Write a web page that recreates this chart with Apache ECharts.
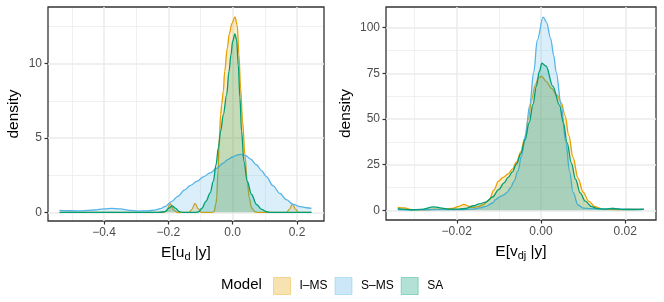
<!DOCTYPE html>
<html>
<head>
<meta charset="utf-8">
<script src="https://cdn.jsdelivr.net/npm/echarts@6/dist/echarts.min.js"></script>
<style>html,body{margin:0;padding:0;background:#fff;}#c{width:664px;height:302px;}</style>
</head>
<body>
<div id="c"></div>
<script>
// ---------- data ----------
const models = ['I\u2013MS', 'S\u2013MS', 'SA'];
const colors = ['#E69F00', '#56B4E9', '#009E73'];

// Left panel: E[u_d | y]
const leftIMS = [[-0.538,0],[-0.215,0],[-0.205,0.12],[-0.194,0.58],[-0.183,0.15],[-0.172,0],[-0.135,0],[-0.127,0.2],[-0.117,0.6],[-0.107,0.25],[-0.097,0],[-0.065,0],[-0.058,0.05],[-0.0517,0.6],[-0.0497,0.98],[-0.0455,2.76],[-0.0414,5.0],[-0.0373,6.57],[-0.0342,7.24],[-0.029,8.13],[-0.0248,9.47],[-0.0166,11.04],[-0.0104,12.0],[-0.0021,12.7],[0.0072,13.13],[0.0144,12.57],[0.0195,10.59],[0.0247,8.35],[0.0309,6.11],[0.0381,3.88],[0.0454,2.09],[0.0516,0.98],[0.0588,0.31],[0.0691,0.04],[0.08,0],[0.168,0],[0.176,0.2],[0.186,0.55],[0.196,0.2],[0.205,0],[0.245,0]];
const leftSMS = [[-0.538,0.14],[-0.5,0.11],[-0.469,0.1],[-0.43,0.16],[-0.4,0.23],[-0.376,0.27],[-0.35,0.23],[-0.32,0.14],[-0.294,0.09],[-0.265,0.1],[-0.242,0.15],[-0.225,0.25],[-0.211,0.38],[-0.19,0.72],[-0.17,1.08],[-0.15,1.5],[-0.132,1.8],[-0.11,2.1],[-0.091,2.39],[-0.07,2.65],[-0.05,2.95],[-0.03,3.3],[-0.015,3.55],[0,3.72],[0.015,3.86],[0.025,3.9],[0.04,3.82],[0.055,3.6],[0.074,3.2],[0.09,2.8],[0.105,2.4],[0.125,1.8],[0.147,1.27],[0.167,0.85],[0.188,0.54],[0.21,0.38],[0.23,0.31],[0.245,0.27]];
const leftSA = [[-0.538,0],[-0.23,0],[-0.21,0.05],[-0.198,0.28],[-0.188,0.44],[-0.178,0.28],[-0.166,0.05],[-0.155,0],[-0.115,0],[-0.106,0.04],[-0.096,0.26],[-0.0825,0.75],[-0.07,1.31],[-0.06,2.09],[-0.0517,3.2],[-0.0445,4.33],[-0.0373,5.45],[-0.029,6.57],[-0.0186,7.9],[-0.0114,9.47],[-0.0052,10.59],[0.0,11.5],[0.0071,12.0],[0.0123,11.6],[0.0175,9.9],[0.0226,7.7],[0.0278,5.45],[0.035,3.43],[0.0454,2.09],[0.0588,1.2],[0.0743,0.53],[0.09,0.2],[0.105,0.04],[0.12,0],[0.245,0]];

// Right panel: E[v_dj | y]
const rightIMS = [[-0.034,1.6],[-0.0325,1.3],[-0.0305,0.3],[-0.028,0.3],[-0.025,0.6],[-0.021,1.0],[-0.0195,2.2],[-0.0183,3.3],[-0.0172,2.3],[-0.0163,1.5],[-0.015,2.0],[-0.0139,2.9],[-0.0123,5.7],[-0.0112,11],[-0.0101,16],[-0.009,18],[-0.0078,20],[-0.0068,22.5],[-0.0058,26.5],[-0.0048,32],[-0.0039,39.3],[-0.003,50],[-0.0022,61],[-0.0014,68.5],[-0.0006,72.5],[0.0001,73.4],[0.0013,70.5],[0.0025,66.7],[0.0038,63],[0.0048,59],[0.0057,52],[0.0066,41],[0.0076,29],[0.0088,17.5],[0.01,10],[0.0113,5],[0.0128,2],[0.0145,0.8],[0.016,0.5],[0.019,0.4],[0.022,0.6],[0.0244,0.5]];
const rightSMS = [[-0.034,0.4],[-0.031,0.3],[-0.027,0.3],[-0.023,0.4],[-0.019,0.4],[-0.0163,0.6],[-0.0145,1.3],[-0.0131,2.2],[-0.0115,4],[-0.0107,6],[-0.0098,7.5],[-0.0088,8.5],[-0.008,10],[-0.0072,12.5],[-0.0064,16],[-0.0055,21.5],[-0.0046,30],[-0.0037,41],[-0.0027,57.5],[-0.0017,76],[-0.0009,93],[0.0005,105.8],[0.0013,103],[0.0023,94],[0.003,85],[0.0036,75.7],[0.0048,57.5],[0.0059,37],[0.0068,21],[0.0076,10],[0.0088,2.9],[0.01,1.2],[0.012,0.9],[0.015,0.8],[0.017,1.1],[0.019,0.7],[0.022,0.6],[0.0244,0.7]];
const rightSA = [[-0.034,0.9],[-0.031,0.3],[-0.0285,0.5],[-0.0254,1.9],[-0.0235,1.2],[-0.0218,0.6],[-0.0195,0.7],[-0.0179,1.0],[-0.016,2.5],[-0.0147,3.5],[-0.0131,4.5],[-0.0115,7.3],[-0.01,11.5],[-0.0088,15],[-0.0078,18],[-0.0068,21],[-0.0058,25.5],[-0.0048,31],[-0.0038,38.5],[-0.0028,48],[-0.0019,58],[-0.0011,68],[-0.0004,76],[0.0002,80.5],[0.0012,79],[0.0028,68],[0.0044,57.5],[0.0053,48],[0.0062,37],[0.0072,26],[0.0082,17],[0.0093,9.5],[0.0105,5],[0.012,2],[0.0135,0.9],[0.015,0.6],[0.017,1.0],[0.019,0.5],[0.022,0.4],[0.0244,0.5]];

// ticks
const leftXTicks = [-0.4, -0.2, 0, 0.2];
const leftXLabels = ['\u22120.4', '\u22120.2', '0.0', '0.2'];
const leftXMinor = [-0.5, -0.3, -0.1, 0.1];
const leftYTicks = [0, 5, 10];
const leftYLabels = ['0', '5', '10'];
const leftYMinor = [2.5, 7.5, 12.5];
const rightXTicks = [-0.02, 0, 0.02];
const rightXLabels = ['\u22120.02', '0.00', '0.02'];
const rightXMinor = [-0.03, -0.01, 0.01];
const rightYTicks = [0, 25, 50, 75, 100];
const rightYLabels = ['0', '25', '50', '75', '100'];
const rightYMinor = [12.5, 37.5, 62.5, 87.5];

// ---------- chart ----------
const FONT = 'Liberation Sans, Arial, sans-serif';
function rgba(hex, a) {
  const n = parseInt(hex.slice(1), 16);
  return 'rgba(' + (n >> 16) + ',' + ((n >> 8) & 255) + ',' + (n & 255) + ',' + a + ')';
}
function labelFor(ticks, labels) {
  return function (v) {
    for (let i = 0; i < ticks.length; i++) if (Math.abs(ticks[i] - v) < 1e-9) return labels[i];
    return '';
  };
}
function xAxisCfg(grid, min, max, ticks, labels, name) {
  return {
    type: 'value', gridIndex: grid, min: min, max: max, position: 'bottom',
    axisLine: { show: false, onZero: false },
    axisTick: { show: true, customValues: ticks, length: 3.5, lineStyle: { color: '#333333', width: 1.2 } },
    axisLabel: { customValues: ticks, formatter: labelFor(ticks, labels), color: '#4D4D4D', fontSize: 12, fontFamily: FONT, margin: 6 },
    splitLine: { show: true, lineStyle: { color: '#EBEBEB', width: 1.5 } },
    name: name, nameLocation: 'middle', nameGap: 20,
    nameTextStyle: {
      color: '#000', fontSize: 15.5, fontFamily: FONT,
      rich: {
        a: { fontSize: 15.5, fontFamily: FONT, color: '#000', lineHeight: 18, verticalAlign: 'top' },
        sub: { fontSize: 11, fontFamily: FONT, color: '#000', lineHeight: 13, verticalAlign: 'bottom', padding: [8, 0, 0, 0] }
      }
    }
  };
}
function yAxisCfg(grid, min, max, ticks, labels, gap) {
  return {
    type: 'value', gridIndex: grid, min: min, max: max, position: 'left',
    axisLine: { show: false, onZero: false },
    axisTick: { show: true, customValues: ticks, length: 3.5, lineStyle: { color: '#333333', width: 1.2 } },
    axisLabel: { customValues: ticks, formatter: labelFor(ticks, labels), color: '#4D4D4D', fontSize: 12, fontFamily: FONT, margin: 6 },
    splitLine: { show: true, lineStyle: { color: '#EBEBEB', width: 1.5 } },
    name: 'density', nameLocation: 'middle', nameGap: gap, nameRotate: 90,
    nameTextStyle: { color: '#000', fontSize: 15.5, fontFamily: FONT }
  };
}
function minorAxisCfg(grid, min, max, vals, pos) {
  return {
    type: 'value', gridIndex: grid, min: min, max: max, position: pos, z: -1,
    axisLine: { show: false, onZero: false },
    axisTick: { show: false, customValues: vals },
    axisLabel: { show: false, customValues: vals },
    splitLine: { show: true, lineStyle: { color: '#EBEBEB', width: 0.75 } }
  };
}
function densSeries(name, color, data, xi, yi, z) {
  return {
    type: 'line', name: name, xAxisIndex: xi, yAxisIndex: yi, data: data, z: z,
    showSymbol: false, smooth: 0.35, smoothMonotone: 'x',
    lineStyle: { color: color, width: 1.3 },
    itemStyle: { color: color },
    areaStyle: { color: rgba(color, 0.3), origin: 0 },
    emphasis: { disabled: true }
  };
}

const chart = echarts.init(document.getElementById('c'), null, { renderer: 'canvas' });
chart.setOption({
  animation: false,
  backgroundColor: '#ffffff',
  grid: [
    { left: 48, top: 7, width: 276, height: 214, show: true, borderColor: '#333333', borderWidth: 1.3, backgroundColor: 'transparent', containLabel: false },
    { left: 386, top: 7, width: 270, height: 213, show: true, borderColor: '#333333', borderWidth: 1.3, backgroundColor: 'transparent', containLabel: false }
  ],
  xAxis: [
    xAxisCfg(0, -0.574, 0.284, leftXTicks, leftXLabels, '{a|E[u}{sub|d}{a| |y]}'),
    xAxisCfg(1, -0.0368, 0.0273, rightXTicks, rightXLabels, '{a|E[v}{sub|dj}{a| |y]}'),
    minorAxisCfg(0, -0.574, 0.284, leftXMinor, 'top'),
    minorAxisCfg(1, -0.0368, 0.0273, rightXMinor, 'top')
  ],
  yAxis: [
    yAxisCfg(0, -0.58, 13.8, leftYTicks, leftYLabels, 26),
    yAxisCfg(1, -5.3, 111.3, rightYTicks, rightYLabels, 32),
    minorAxisCfg(0, -0.58, 13.8, leftYMinor, 'right'),
    minorAxisCfg(1, -5.3, 111.3, rightYMinor, 'right')
  ],
  legend: {
    left: 273, top: 277, padding: 0, itemWidth: 17, itemHeight: 17, itemGap: 7, icon: 'rect',
    textStyle: { fontSize: 12, fontFamily: FONT, color: '#000', padding: [0, 0, 0, 4] },
    selectedMode: false,
    data: models.map((m, i) => ({ name: m, itemStyle: { color: rgba(colors[i], 0.3), borderColor: rgba(colors[i], 0.35), borderWidth: 1 } }))
  },
  graphic: [
    { type: 'text', left: 221, top: 277, style: { text: 'Model', fontSize: 15, fontFamily: FONT, fill: '#000' } }
  ],
  series: [
    densSeries(models[0], colors[0], leftIMS, 0, 0, 2),
    densSeries(models[1], colors[1], leftSMS, 0, 0, 3),
    densSeries(models[2], colors[2], leftSA, 0, 0, 4),
    densSeries(models[0], colors[0], rightIMS, 1, 1, 2),
    densSeries(models[1], colors[1], rightSMS, 1, 1, 3),
    densSeries(models[2], colors[2], rightSA, 1, 1, 4)
  ]
});
</script>
</body>
</html>
